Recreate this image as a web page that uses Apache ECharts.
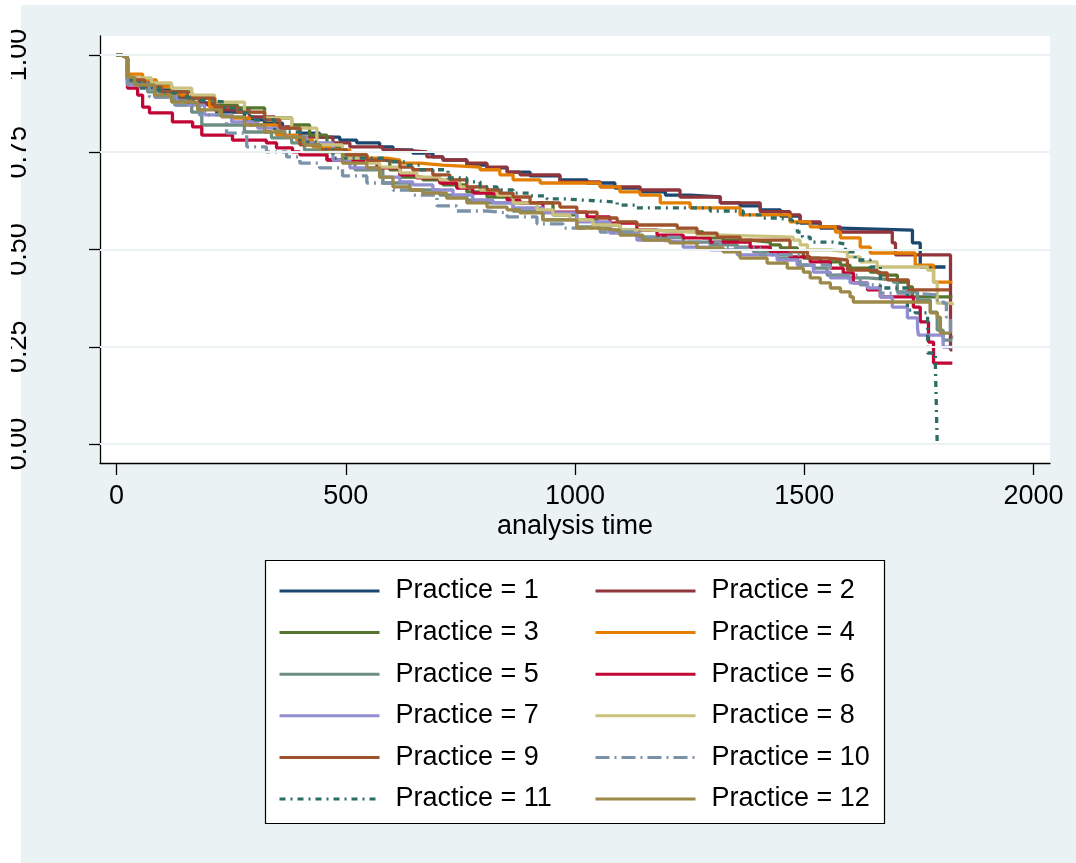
<!DOCTYPE html>
<html>
<head>
<meta charset="utf-8">
<script src="https://cdn.jsdelivr.net/npm/echarts@6/dist/echarts.min.js"></script>
<style>
html,body{margin:0;padding:0;background:#fff;}
#chart{width:1076px;height:863px;}
</style>
</head>
<body>
<div id="chart"></div>
<script>
// ---- data (analysis time, survival) ----
const xTicks = [0, 500, 1000, 1500, 2000];
const yTicks = [0, 0.25, 0.5, 0.75, 1];
const names = ['Practice = 1','Practice = 2','Practice = 3','Practice = 4','Practice = 5','Practice = 6',
               'Practice = 7','Practice = 8','Practice = 9','Practice = 10','Practice = 11','Practice = 12'];

const practice1 = [[0,1],[9,0.997],[17,0.992],[24,0.941],[46,0.928],[83,0.91],[120,0.892],[155,0.877],[199,0.871],[218,0.853],[279,0.833],[323,0.825],[362,0.812],[400,0.799],[443,0.789],[487,0.781],[524,0.774],[574,0.764],[603,0.756],[646,0.748],[690,0.738],[712,0.73],[764,0.717],[808,0.71],[852,0.699],[902,0.689],[967,0.679],[1026,0.671],[1087,0.658],[1142,0.648],[1197,0.64],[1251,0.635],[1317,0.62],[1360,0.612],[1404,0.602],[1448,0.586],[1491,0.568],[1535,0.555],[1579,0.55],[1736,0.517],[1753,0.455],[1808,0.455]];
const practice2 = [[0,1],[9,0.997],[17,0.992],[24,0.936],[50,0.92],[94,0.905],[138,0.889],[181,0.874],[225,0.859],[290,0.841],[345,0.815],[400,0.789],[472,0.774],[509,0.764],[581,0.756],[618,0.751],[677,0.738],[712,0.73],[764,0.722],[808,0.712],[852,0.699],[880,0.692],[967,0.674],[1055,0.661],[1142,0.653],[1229,0.635],[1317,0.62],[1404,0.597],[1469,0.589],[1491,0.571],[1535,0.558],[1579,0.545],[1692,0.517],[1699,0.486],[1819,0.242],[1823,0.242]];
const practice3 = [[0,1],[9,0.997],[17,0.992],[24,0.936],[61,0.923],[120,0.905],[164,0.889],[214,0.871],[264,0.864],[323,0.838],[382,0.82],[421,0.794],[459,0.761],[493,0.743],[546,0.73],[596,0.705],[618,0.686],[668,0.679],[712,0.666],[764,0.648],[808,0.635],[865,0.62],[952,0.589],[1004,0.576],[1048,0.563],[1098,0.55],[1164,0.545],[1279,0.53],[1323,0.524],[1382,0.519],[1426,0.512],[1448,0.504],[1485,0.494],[1498,0.478],[1535,0.468],[1579,0.46],[1600,0.452],[1644,0.442],[1666,0.434],[1703,0.416],[1727,0.404],[1736,0.378],[1823,0.378]];
const practice4 = [[0,1],[9,0.997],[17,0.992],[24,0.951],[57,0.936],[87,0.918],[122,0.897],[153,0.889],[203,0.866],[225,0.846],[253,0.838],[290,0.82],[349,0.794],[393,0.781],[428,0.764],[465,0.756],[509,0.743],[546,0.735],[590,0.73],[618,0.722],[662,0.717],[712,0.712],[793,0.705],[836,0.692],[865,0.679],[924,0.671],[1055,0.661],[1098,0.648],[1142,0.64],[1186,0.62],[1251,0.607],[1360,0.589],[1469,0.571],[1513,0.558],[1568,0.545],[1579,0.53],[1622,0.506],[1644,0.491],[1742,0.46],[1782,0.416],[1823,0.416]];
const practice5 = [[0,1],[9,0.997],[17,0.992],[24,0.928],[68,0.905],[120,0.884],[164,0.853],[186,0.82],[279,0.802],[338,0.787],[382,0.774],[410,0.756],[459,0.73],[520,0.705],[581,0.671],[640,0.653],[705,0.64],[764,0.627],[808,0.62],[865,0.599],[930,0.576],[1004,0.558],[1076,0.545],[1135,0.532],[1179,0.53],[1236,0.519],[1295,0.512],[1354,0.506],[1389,0.494],[1441,0.478],[1485,0.46],[1520,0.452],[1550,0.434],[1594,0.427],[1638,0.422],[1694,0.416],[1703,0.391],[1747,0.37],[1775,0.339],[1790,0.293],[1803,0.267],[1823,0.267]];
const practice6 = [[0,1],[9,0.997],[17,0.992],[24,0.915],[46,0.897],[57,0.866],[72,0.851],[122,0.828],[166,0.815],[186,0.794],[253,0.781],[327,0.774],[349,0.761],[384,0.751],[400,0.743],[459,0.73],[524,0.725],[568,0.71],[618,0.692],[655,0.684],[705,0.671],[742,0.658],[777,0.645],[808,0.64],[852,0.627],[880,0.62],[930,0.596],[1026,0.584],[1076,0.568],[1135,0.55],[1179,0.537],[1236,0.53],[1295,0.519],[1382,0.506],[1426,0.494],[1469,0.481],[1513,0.468],[1557,0.452],[1585,0.44],[1607,0.414],[1638,0.396],[1666,0.378],[1738,0.352],[1753,0.314],[1771,0.262],[1782,0.208],[1823,0.208]];
const practice7 = [[0,1],[9,0.997],[17,0.992],[24,0.923],[83,0.892],[133,0.871],[192,0.846],[251,0.828],[308,0.812],[367,0.789],[415,0.774],[472,0.73],[509,0.71],[574,0.686],[618,0.674],[646,0.666],[690,0.653],[734,0.64],[777,0.627],[821,0.62],[865,0.607],[930,0.594],[1004,0.571],[1076,0.542],[1135,0.524],[1186,0.519],[1236,0.506],[1295,0.499],[1354,0.486],[1441,0.473],[1485,0.46],[1520,0.442],[1557,0.427],[1600,0.414],[1638,0.401],[1666,0.378],[1692,0.352],[1725,0.324],[1747,0.298],[1749,0.28],[1803,0.249],[1823,0.249]];
const practice8 = [[0,1],[9,0.997],[17,0.992],[24,0.941],[76,0.928],[120,0.915],[164,0.897],[214,0.879],[279,0.853],[323,0.838],[382,0.812],[437,0.769],[493,0.735],[546,0.722],[574,0.712],[618,0.697],[655,0.686],[705,0.679],[749,0.661],[793,0.653],[830,0.64],[865,0.62],[917,0.602],[952,0.589],[989,0.576],[1039,0.563],[1098,0.55],[1164,0.545],[1266,0.537],[1323,0.532],[1476,0.524],[1491,0.512],[1507,0.499],[1557,0.494],[1594,0.481],[1622,0.468],[1659,0.455],[1769,0.447],[1782,0.416],[1790,0.362],[1823,0.357]];
const practice9 = [[0,1],[9,0.997],[17,0.992],[24,0.936],[61,0.918],[98,0.905],[155,0.889],[214,0.866],[264,0.853],[323,0.833],[356,0.812],[400,0.769],[443,0.756],[502,0.743],[546,0.73],[581,0.725],[618,0.712],[646,0.705],[690,0.692],[727,0.679],[764,0.661],[808,0.653],[836,0.645],[865,0.635],[902,0.62],[967,0.609],[1004,0.596],[1048,0.581],[1092,0.571],[1135,0.563],[1223,0.555],[1266,0.542],[1310,0.532],[1360,0.524],[1469,0.494],[1507,0.478],[1550,0.473],[1594,0.447],[1659,0.44],[1681,0.422],[1727,0.396],[1817,0.396]];
const practice10 = [[0,1],[9,0.997],[17,0.992],[24,0.923],[72,0.892],[127,0.871],[181,0.846],[240,0.799],[284,0.764],[327,0.751],[371,0.738],[400,0.722],[443,0.71],[493,0.689],[546,0.671],[603,0.653],[646,0.64],[699,0.612],[742,0.599],[808,0.594],[852,0.584],[917,0.566],[974,0.555],[1055,0.545],[1142,0.532],[1229,0.519],[1317,0.504],[1404,0.486],[1491,0.46],[1557,0.434],[1622,0.409],[1666,0.388],[1738,0.383],[1790,0.37],[1803,0.362],[1810,0.326],[1819,0.275],[1825,0.275]];
const practice11 = [[0,1],[9,0.997],[17,0.992],[24,0.936],[50,0.915],[94,0.902],[131,0.892],[159,0.884],[188,0.879],[236,0.864],[269,0.851],[295,0.833],[345,0.802],[400,0.776],[443,0.756],[472,0.735],[590,0.725],[629,0.717],[662,0.705],[723,0.684],[764,0.674],[793,0.661],[830,0.653],[865,0.645],[902,0.638],[939,0.63],[978,0.627],[1017,0.622],[1092,0.614],[1131,0.607],[1295,0.599],[1367,0.589],[1404,0.581],[1441,0.576],[1474,0.568],[1485,0.545],[1496,0.532],[1513,0.519],[1563,0.514],[1590,0.494],[1611,0.473],[1644,0.455],[1666,0.401],[1725,0.344],[1742,0.337],[1769,0.234],[1786,0.203],[1790,0]];
const practice12 = [[0,1],[9,0.997],[17,0.992],[24,0.943],[39,0.923],[83,0.897],[120,0.879],[177,0.859],[229,0.841],[279,0.82],[323,0.802],[367,0.789],[410,0.769],[443,0.751],[493,0.722],[546,0.71],[574,0.686],[603,0.661],[640,0.653],[668,0.645],[720,0.632],[764,0.62],[808,0.609],[852,0.602],[880,0.594],[930,0.576],[1004,0.555],[1048,0.55],[1098,0.537],[1148,0.524],[1207,0.517],[1266,0.504],[1323,0.494],[1360,0.478],[1419,0.465],[1463,0.452],[1498,0.442],[1513,0.427],[1535,0.414],[1557,0.401],[1579,0.391],[1600,0.378],[1607,0.365],[1775,0.337],[1790,0.326],[1797,0.285],[1819,0.285]];

const seriesData = [practice1, practice2, practice3, practice4, practice5, practice6,
                    practice7, practice8, practice9, practice10, practice11, practice12];
const colors = ['#1a476f','#90353b','#55752f','#e37e00','#6e8e84','#c10534',
                '#938dd2','#cac27e','#a0522d','#7b92a8','#2d6d66','#9c8847'];
const dashes = {9: [14, 5, 2, 5], 10: [6, 5, 2, 5]};

const FONT = 'Liberation Sans, Arial, sans-serif';

const series = seriesData.map((d, i) => ({
  type: 'line',
  name: names[i],
  data: d,
  step: 'end',
  symbol: 'none',
  showSymbol: false,
  animation: false,
  z: 3,
  color: colors[i],
  lineStyle: {color: colors[i], width: 3.3, type: dashes[i] || 'solid'},
  itemStyle: {color: colors[i]}
}));

// grid lines at y ticks
series.unshift({
  type: 'line',
  name: 'grid',
  data: [],
  z: 1,
  silent: true,
  animation: false,
  markLine: {
    silent: true,
    symbol: 'none',
    label: {show: false},
    animation: false,
    lineStyle: {color: '#EAF2F3', width: 2, type: 'solid'},
    data: yTicks.map(v => ({yAxis: v}))
  }
});

const oddNames = names.filter((n, i) => i % 2 === 0);
const evenNames = names.filter((n, i) => i % 2 === 1);
const legendCommon = {
  orient: 'vertical',
  top: 576,
  padding: 0,
  itemWidth: 100,
  itemHeight: 14,
  itemGap: 11.6,
  z: 10,
  selectedMode: false,
  itemStyle: {opacity: 0},
  lineStyle: {width: 3},
  textStyle: {fontSize: 27, fontFamily: FONT, color: '#000', lineHeight: 30, padding: [0, 0, 0, 11]}
};

const option = {
  backgroundColor: '#EAF2F3',
  animation: false,
  textStyle: {fontFamily: FONT},
  grid: {left: 100, right: 26, top: 36, bottom: 400, show: true, backgroundColor: '#fff', borderWidth: 0, containLabel: false},
  xAxis: {
    type: 'value', min: -36, max: 2036,
    axisLine: {show: true, onZero: false, lineStyle: {color: '#000', width: 1.3}},
    axisTick: {show: true, length: 12, customValues: xTicks, lineStyle: {color: '#000', width: 1.3}},
    axisLabel: {customValues: xTicks, fontSize: 27, color: '#000', margin: 20, fontFamily: FONT,
                formatter: v => String(v)},
    splitLine: {show: false},
    name: 'analysis time', nameLocation: 'middle', nameGap: 50,
    nameTextStyle: {fontSize: 27, color: '#000', fontFamily: FONT}
  },
  yAxis: {
    type: 'value', min: -0.0488, max: 1.0488,
    axisLine: {show: true, onZero: false, lineStyle: {color: '#000', width: 1.3}},
    axisTick: {show: true, length: 11, customValues: yTicks, lineStyle: {color: '#000', width: 1.3}},
    axisLabel: {customValues: yTicks, fontSize: 27, color: '#000', rotate: 90, margin: 68, fontFamily: FONT,
                formatter: v => v.toFixed(2)},
    splitLine: {show: false}
  },
  legend: [
    Object.assign({}, legendCommon, {left: 278, data: oddNames}),
    Object.assign({}, legendCommon, {left: 594, data: evenNames})
  ],
  graphic: [
    {type: 'rect', z: -10, silent: true, shape: {x: 0, y: 0, width: 21, height: 863}, style: {fill: '#fff'}},
    {type: 'rect', z: -10, silent: true, shape: {x: 0, y: 0, width: 1076, height: 5}, style: {fill: '#fff'}},
    {type: 'rect', z: -5, silent: true, shape: {x: 265.5, y: 560.5, width: 619, height: 263}, style: {fill: '#fff', stroke: '#000', lineWidth: 1.2}},
    {type: 'rect', z: 100, silent: true, shape: {x: 0, y: 0, width: 11, height: 863}, style: {fill: '#fff'}}
  ],
  series: series
};

const chart = echarts.init(document.getElementById('chart'), null, {renderer: 'canvas'});
chart.setOption(option);
</script>
</body>
</html>
